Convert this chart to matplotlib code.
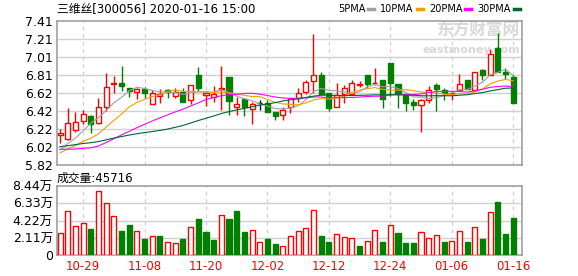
import numpy as np
import pandas as pd
import matplotlib
matplotlib.use('Agg')
import matplotlib.pyplot as plt

plt.rcParams['font.family'] = ['DejaVu Sans', 'Noto Sans CJK SC']

# trading days shown
dates = ['10-24', '10-25', '10-28', '10-29', '10-30', '10-31', '11-01', '11-04', '11-05', '11-06',
         '11-07', '11-08', '11-11', '11-12', '11-13', '11-14', '11-15', '11-18', '11-19', '11-20',
         '11-21', '11-22', '11-25', '11-26', '11-27', '11-28', '11-29', '12-02', '12-03', '12-04',
         '12-05', '12-06', '12-09', '12-10', '12-11', '12-12', '12-13', '12-16', '12-17', '12-18',
         '12-19', '12-20', '12-23', '12-24', '12-25', '12-26', '12-27', '12-30', '12-31', '01-02',
         '01-03', '01-06', '01-07', '01-08', '01-09', '01-10', '01-13', '01-14', '01-15', '01-16']
tick_dates = ['10-29', '11-08', '11-20', '12-02', '12-12', '12-24', '01-06', '01-16']

open_ = [6.148, 6.11, 6.207, 6.306, 6.365, 6.284, 6.464, 6.71, 6.72, 6.667,
         6.623, 6.663, 6.498, 6.582, 6.648, 6.58, 6.626, 6.542, 6.81, 6.597,
         6.575, 6.66, 6.788, 6.464, 6.553, 6.439, 6.50, 6.509, 6.402, 6.369,
         6.461, 6.556, 6.626, 6.748, 6.81, 6.619, 6.464, 6.608, 6.60, 6.70,
         6.818, 6.725, 6.755, 6.95, 6.718, 6.593, 6.516, 6.483, 6.534, 6.70,
         6.648, 6.60, 6.648, 6.755, 6.648, 6.869, 6.814, 7.116, 6.845, 6.792]
high = [6.214, 6.453, 6.41, 6.431, 6.372, 6.556, 6.84, 6.80, 6.91, 6.67,
        6.67, 6.68, 6.645, 6.656, 6.656, 6.674, 6.667, 6.707, 6.902, 6.637,
        6.693, 6.913, 6.788, 6.567, 6.56, 6.52, 6.534, 6.534, 6.402, 6.457,
        6.564, 6.667, 6.755, 7.263, 6.843, 6.619, 6.729, 6.703, 6.755, 6.748,
        6.818, 6.888, 6.755, 6.95, 6.718, 6.593, 6.545, 6.545, 6.693, 6.722,
        6.667, 6.63, 6.821, 6.755, 6.85, 6.877, 7.097, 7.28, 6.888, 6.81]
low = [6.067, 6.10, 6.188, 6.277, 6.174, 6.27, 6.417, 6.61, 6.637, 6.571,
       6.545, 6.56, 6.498, 6.505, 6.56, 6.564, 6.516, 6.49, 6.637, 6.472,
       6.52, 6.424, 6.372, 6.369, 6.361, 6.27, 6.424, 6.406, 6.314, 6.314,
       6.395, 6.52, 6.608, 6.615, 6.60, 6.417, 6.464, 6.501, 6.60, 6.68,
       6.674, 6.70, 6.446, 6.582, 6.446, 6.417, 6.428, 6.188, 6.509, 6.417,
       6.534, 6.534, 6.637, 6.656, 6.648, 6.762, 6.814, 6.847, 6.766, 6.505]
close = [6.17, 6.28, 6.30, 6.387, 6.277, 6.464, 6.685, 6.72, 6.69, 6.637,
         6.66, 6.615, 6.619, 6.608, 6.623, 6.63, 6.516, 6.707, 6.674, 6.611,
         6.60, 6.674, 6.527, 6.49, 6.461, 6.495, 6.50, 6.406, 6.361, 6.428,
         6.556, 6.619, 6.737, 6.818, 6.60, 6.446, 6.593, 6.674, 6.72, 6.71,
         6.715, 6.73, 6.549, 6.729, 6.60, 6.50, 6.483, 6.534, 6.648, 6.656,
         6.612, 6.62, 6.718, 6.656, 6.85, 6.818, 7.042, 6.847, 6.83, 6.505]
# closes before the window (only feed the moving averages)
prior_close = [5.98, 5.96, 6.00, 6.02, 6.08, 6.12, 6.15, 6.18, 6.14, 6.20,
               6.25, 6.28, 6.22, 6.18, 6.05, 5.92, 5.88, 5.85, 5.86, 5.84,
               5.86, 5.90, 5.92, 5.95, 5.98, 5.93, 6.00, 5.98, 5.85]
# volume in 万
volume = [2.69, 5.38, 3.55, 3.91, 3.18, 7.83, 6.36, 4.77, 2.94, 3.67,
          2.94, 1.96, 2.32, 2.32, 1.59, 1.47, 1.96, 3.42, 4.40, 2.81,
          1.83, 4.89, 4.40, 5.38, 2.81, 3.06, 1.59, 1.96, 1.35, 1.10,
          2.32, 2.89, 3.26, 5.46, 2.28, 1.59, 2.53, 2.16, 2.04, 1.10,
          1.71, 3.02, 1.59, 3.63, 2.69, 1.47, 1.47, 2.77, 2.04, 2.41,
          1.59, 1.71, 2.89, 1.59, 3.38, 1.96, 5.22, 6.48, 2.57, 4.5716]

ma_windows = [5, 10, 20, 30]
ma_colors = ['#a0a0a0', '#f0a000', '#ff00ff', '#006633']

RED = '#ff0000'
GREEN = '#008000'
GRID = '#d0d0d0'
FRAME = '#999999'

n = len(close)
x = np.arange(n)
all_close = pd.Series(prior_close + close)

fig = plt.figure(figsize=(5.78, 2.76), dpi=100)
ax = fig.add_axes([57 / 578, 111 / 276, 465 / 578, 144 / 276])
axv = fig.add_axes([57 / 578, 21 / 276, 465 / 578, 69 / 276])

tick_pos = [dates.index(d) for d in tick_dates]

# price panel
ymin, ymax = 5.82, 7.41
yt = np.linspace(ymin, ymax, 9)
for a in (ax, axv):
    a.set_xlim(-0.4, 60.15)
    for t in tick_pos:
        a.axvline(t, color=GRID, lw=0.9, ls=(0, (3, 3)), zorder=0)
    for s in a.spines.values():
        s.set_color(FRAME)
        s.set_linewidth(1.1)
    a.tick_params(length=0)
    a.set_xticks([])

for v in yt[1:-1]:
    ax.axhline(v, color=GRID, lw=1, zorder=0)
ax.set_ylim(ymin, ymax)
ax.set_yticks(yt)
ax.set_yticklabels([f'{v:.2f}' for v in yt], fontsize=9)
ax.tick_params(axis='y', pad=3)

for i in range(n):
    o, h, l, c = open_[i], high[i], low[i], close[i]
    if c > o:
        col, face = RED, 'white'
    elif c < o:
        col, face = GREEN, GREEN
    else:
        col, face = 'black', 'black'
    ax.vlines(i, l, h, color=col, lw=1, zorder=2)
    bot = min(o, c)
    hgt = max(abs(c - o), 0.004)
    ax.bar(i, hgt, 0.66, bottom=bot, facecolor=face, edgecolor=col, lw=1, zorder=3)

for w, col in zip(ma_windows, ma_colors):
    ma = all_close.rolling(w).mean().values[len(prior_close):]
    ax.plot(x, ma, color=col, lw=0.8, zorder=4)

# watermark
ax.text(0.995, 0.93, '东方财富网', transform=ax.transAxes, ha='right', va='center',
        fontsize=12, color='#d8d8d8', fontweight='bold', zorder=1)
ax.text(0.995, 0.80, 'eastmoney.com', transform=ax.transAxes, ha='right', va='center',
        fontsize=8, color='#d8d8d8', fontweight='bold', zorder=1)

# title and legend
ty = 1 - 9 / 276
fig.text(57 / 578, ty, '三维丝[300056] 2020-01-16 15:00', ha='left', va='center', fontsize=8.5)
fig.canvas.draw()
r = fig.canvas.get_renderer()
lx = 338
for w, col in zip(ma_windows, ma_colors):
    t = fig.text(lx / 578, ty, f'{w}PMA', ha='left', va='center', fontsize=7)
    x1 = t.get_window_extent(r).x1
    fig.add_artist(plt.Line2D([(x1 + 3) / 578, (x1 + 9) / 578], [ty, ty],
                              color=col, lw=2.5, transform=fig.transFigure))
    lx = x1 + 15

# volume panel
vmax = 8.44
vt = np.linspace(0, vmax, 5)
for v in vt[1:-1]:
    axv.axhline(v, color=GRID, lw=1, zorder=0)
prev = [prior_close[-1]] + close[:-1]
vol_up = [c >= p for c, p in zip(close, prev)]
vface = ['white' if u else GREEN for u in vol_up]
vedge = [RED if u else GREEN for u in vol_up]
axv.bar(x, volume, 0.66, facecolor=vface, edgecolor=vedge, lw=1, zorder=3)
axv.set_ylim(0, vmax)
axv.set_yticks(vt)
axv.set_yticklabels(['0'] + [f'{v:.2f}万' for v in vt[1:]], fontsize=9)
axv.tick_params(axis='y', pad=3)

fig.text(57 / 578, 1 - 178 / 276, f'成交量:{int(round(volume[-1] * 10000))}', ha='left', va='center', fontsize=8.5)

for t in tick_pos:
    axv.text(t, -0.17, dates[t], transform=axv.get_xaxis_transform(), ha='center', va='center',
             color=RED, fontsize=8.5)

fig.savefig('out.png', dpi=100)
